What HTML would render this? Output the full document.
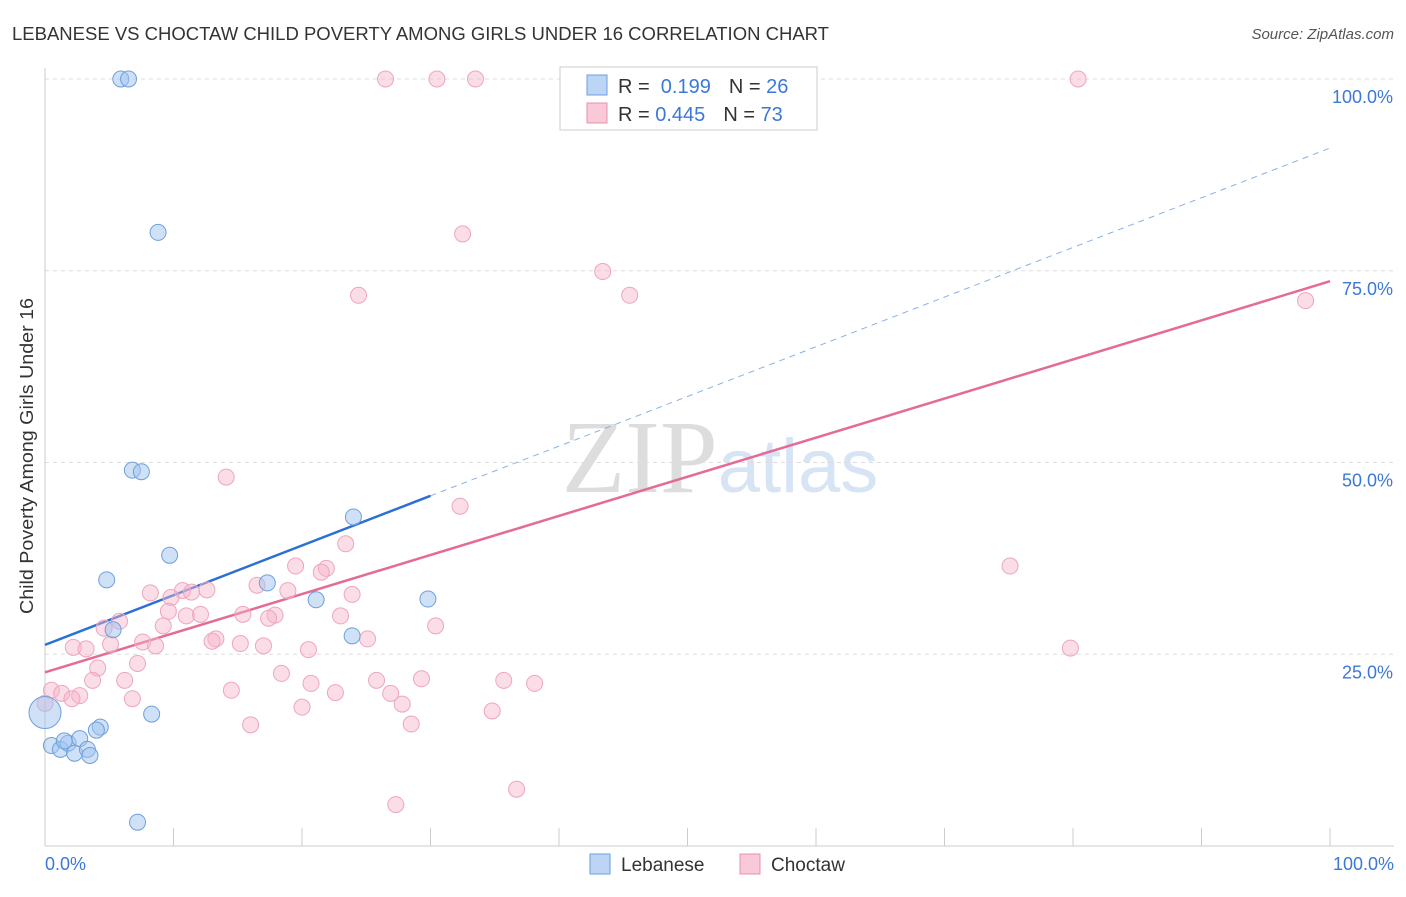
<!DOCTYPE html>
<html><head><meta charset="utf-8"><style>
body{margin:0;background:#fff;font-family:"Liberation Sans",sans-serif}
svg text{font-family:"Liberation Sans",sans-serif}
</style></head><body>
<svg id="chart" width="1406" height="892" xmlns="http://www.w3.org/2000/svg">
<text x="12" y="40" font-size="18" fill="#333" textLength="817" lengthAdjust="spacingAndGlyphs">LEBANESE VS CHOCTAW CHILD POVERTY AMONG GIRLS UNDER 16 CORRELATION CHART</text>
<text x="1394" y="39" font-size="15" fill="#555" text-anchor="end" font-style="italic">Source: ZipAtlas.com</text>
<text x="720" y="492" font-size="104" text-anchor="middle"><tspan fill="#ddd" font-family="Liberation Serif">ZIP</tspan><tspan fill="#d6e4f5" font-size="76">atlas</tspan></text>
<g id="grid"></g>
<g id="axes"></g>
<g id="lines"></g>
<g id="pts"></g>
<text transform="translate(33,456) rotate(-90)" font-size="18" fill="#333" text-anchor="middle" textLength="316" lengthAdjust="spacingAndGlyphs">Child Poverty Among Girls Under 16</text>
<g>
<rect x="560" y="67" width="257" height="63" fill="#fff" stroke="#ccc"/>
<rect x="587" y="75" width="20" height="20" fill="#bcd5f5" stroke="#6a9fe0"/>
<rect x="587" y="103" width="20" height="20" fill="#f9c9d8" stroke="#e890ae"/>
<text x="618" y="93" font-size="20" fill="#333">R = <tspan fill="#3b78d8">&#160;0.199</tspan><tspan dx="18">N = </tspan><tspan fill="#3b78d8">26</tspan></text>
<text x="618" y="121" font-size="20" fill="#333">R = <tspan fill="#3b78d8">0.445</tspan><tspan dx="18">N = </tspan><tspan fill="#3b78d8">73</tspan></text>
</g>
<g>
<rect x="590" y="854" width="20" height="20" fill="#bcd5f5" stroke="#6a9fe0"/>
<text x="621" y="871" font-size="19" fill="#333">Lebanese</text>
<rect x="740" y="854" width="20" height="20" fill="#f9c9d8" stroke="#e890ae"/>
<text x="771" y="871" font-size="19" fill="#333">Choctaw</text>
</g>
</svg>
<script>
const yTicks=[25,50,75,100];
const yTickLabels=["25.0%","50.0%","75.0%","100.0%"];
const xTickLabels=["0.0%","100.0%"];
const lebX=[5.9,6.5,8.8,6.8,7.5,9.7,4.8,17.3,24.0,21.1,29.8,5.3,23.9,8.3,4.3,4.0,0,0.5,1.2,1.8,2.7,2.3,3.3,3.5,7.2,1.5];
const lebY=[100,100,80,49,48.8,37.9,34.7,34.3,42.9,32.1,32.2,28.2,27.4,17.2,15.5,15.1,17.4,13.1,12.6,13.4,14,12.1,12.6,11.8,3.1,13.7];
const choX=[26.5,30.5,33.5,80.4,32.5,43.4,24.4,45.5,98.1,14.1,32.3,23.4,75.1,19.5,21.9,21.5,8.2,10.7,11.4,12.6,16.5,18.9,23.9,9.8,9.6,11,12.1,15.4,17.9,17.4,23.0,5.8,4.6,9.2,30.4,13.3,13,25.1,7.6,2.2,3.2,5.1,8.6,15.2,17.0,20.5,79.8,7.2,4.1,18.4,3.7,6.2,20.7,25.8,29.3,35.7,38.1,14.5,22.6,26.9,0.5,1.3,2.7,2.1,0,6.8,20,27.8,34.8,16.0,28.5,36.7,27.3];
const choY=[100,100,100,100,79.8,74.9,71.8,71.8,71.1,48.1,44.3,39.4,36.5,36.5,36.2,35.7,33,33.3,33.1,33.4,34,33.3,32.8,32.4,30.6,30,30.2,30.2,30.1,29.7,30,29.3,28.4,28.7,28.7,27,26.7,27,26.6,25.9,25.7,26.3,26.1,26.4,26.1,25.6,25.8,23.8,23.2,22.5,21.6,21.6,21.2,21.6,21.8,21.6,21.2,20.3,20,19.9,20.3,19.9,19.6,19.2,18.6,19.2,18.1,18.5,17.6,15.8,15.9,7.4,5.4];
const ns="http://www.w3.org/2000/svg";
const X=v=>45+v*12.85, Y=v=>846-v*7.67;
function mk(t,a,p){const e=document.createElementNS(ns,t);for(const k in a)e.setAttribute(k,a[k]);document.getElementById(p).appendChild(e);return e;}
yTicks.forEach((t,i)=>{
 const g=mk('line',{x1:45,x2:1394,y1:Y(t),y2:Y(t),stroke:'#ddd','stroke-dasharray':'4,4'},'grid');
 
 
 const tx=mk('text',{x:1393,y:Y(t)+24,'font-size':18,fill:'#3b78d8','text-anchor':'end'},'axes');
 
 
 tx.textContent=yTickLabels[i];
});
mk('line',{x1:45,x2:45,y1:68,y2:846,stroke:'#ccc'},'axes');
mk('line',{x1:45,x2:1394,y1:846,y2:846,stroke:'#ccc'},'axes');
for(let i=1;i<=10;i++){const l=mk('line',{x1:X(i*10),x2:X(i*10),y1:828,y2:846,stroke:'#ccc'},'axes');
 
 }
[[0,'start',45],[100,'end',1394]].forEach((d,i)=>{const t=mk('text',{x:d[2],y:870,'font-size':18,fill:'#3b78d8','text-anchor':d[1]},'axes');
 
 
 t.textContent=xTickLabels[i];});
function fit(xs,ys){const n=xs.length;let mx=0,my=0;xs.forEach((v,i)=>{mx+=v;my+=ys[i]});mx/=n;my/=n;let sxy=0,sxx=0;xs.forEach((v,i)=>{sxy+=(v-mx)*(ys[i]-my);sxx+=(v-mx)**2});const b=sxy/sxx;return [my-b*mx,b];}
const [la,lb]=fit(lebX,lebY),[ca,cb]=fit(choX,choY);
let l=mk('line',{x1:X(30),y1:Y(la+lb*30),x2:X(100),y2:Y(la+lb*100),stroke:'#8ab0e8','stroke-dasharray':'6,5'},'lines');


l=mk('line',{x1:X(0),y1:Y(la),x2:X(30),y2:Y(la+lb*30),stroke:'#2c6fd6','stroke-width':2.5},'lines');


l=mk('line',{x1:X(0),y1:Y(ca),x2:X(100),y2:Y(ca+cb*100),stroke:'#e56b97','stroke-width':2.5},'lines');


choX.forEach((v,i)=>{const c=mk('circle',{cx:X(v),cy:Y(choY[i]),r:8,fill:'rgba(246,180,202,0.45)',stroke:'#eea5be'},'pts');
 
 });
lebX.forEach((v,i)=>{const c=mk('circle',{cx:X(v),cy:Y(lebY[i]),r:i==16?16:8,fill:'rgba(160,195,240,0.5)',stroke:'#6f9fdc'},'pts');
 
 });
</script>
</body></html>
